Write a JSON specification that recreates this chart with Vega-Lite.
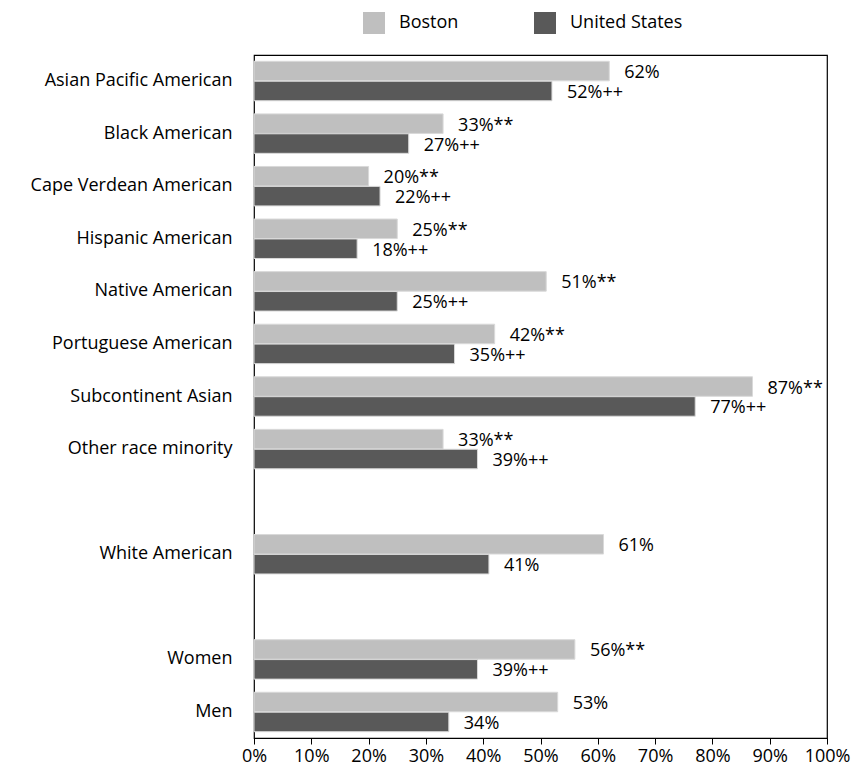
{
  "$schema": "https://vega.github.io/schema/vega-lite/v6.json",
  "autosize": {"type": "none"},
  "width": 573,
  "height": 683,
  "padding": {"left": 254, "top": 55, "right": 25, "bottom": 38},
  "background": "white",
  "config": {
    "font": "Open Sans",
    "view": {"stroke": "black", "strokeWidth": 1.2},
    "axis": {"labelFont": "Open Sans", "labelFontSize": 18, "labelColor": "black", "grid": false, "labelLimit": 300}
  },
  "data": {
    "values": [
      {"cat": "Asian Pacific American", "series": "Boston", "value": 62, "label": "62%"},
      {"cat": "Asian Pacific American", "series": "United States", "value": 52, "label": "52%++"},
      {"cat": "Black American", "series": "Boston", "value": 33, "label": "33%**"},
      {"cat": "Black American", "series": "United States", "value": 27, "label": "27%++"},
      {"cat": "Cape Verdean American", "series": "Boston", "value": 20, "label": "20%**"},
      {"cat": "Cape Verdean American", "series": "United States", "value": 22, "label": "22%++"},
      {"cat": "Hispanic American", "series": "Boston", "value": 25, "label": "25%**"},
      {"cat": "Hispanic American", "series": "United States", "value": 18, "label": "18%++"},
      {"cat": "Native American", "series": "Boston", "value": 51, "label": "51%**"},
      {"cat": "Native American", "series": "United States", "value": 25, "label": "25%++"},
      {"cat": "Portuguese American", "series": "Boston", "value": 42, "label": "42%**"},
      {"cat": "Portuguese American", "series": "United States", "value": 35, "label": "35%++"},
      {"cat": "Subcontinent Asian", "series": "Boston", "value": 87, "label": "87%**"},
      {"cat": "Subcontinent Asian", "series": "United States", "value": 77, "label": "77%++"},
      {"cat": "Other race minority", "series": "Boston", "value": 33, "label": "33%**"},
      {"cat": "Other race minority", "series": "United States", "value": 39, "label": "39%++"},
      {"cat": "White American", "series": "Boston", "value": 61, "label": "61%"},
      {"cat": "White American", "series": "United States", "value": 41, "label": "41%"},
      {"cat": "Women", "series": "Boston", "value": 56, "label": "56%**"},
      {"cat": "Women", "series": "United States", "value": 39, "label": "39%++"},
      {"cat": "Men", "series": "Boston", "value": 53, "label": "53%"},
      {"cat": "Men", "series": "United States", "value": 34, "label": "34%"}
    ]
  },
  "encoding": {
    "y": {
      "field": "cat",
      "type": "nominal",
      "scale": {
        "domain": ["Asian Pacific American", "Black American", "Cape Verdean American", "Hispanic American", "Native American", "Portuguese American", "Subcontinent Asian", "Other race minority", "gap1", "White American", "gap2", "Women", "Men"],
        "paddingInner": 0.25,
        "paddingOuter": 0.12
      },
      "axis": {
        "title": null,
        "ticks": false,
        "domain": false,
        "labelPadding": 22,
        "labelExpr": "indexof(datum.value, 'gap') === 0 ? '' : datum.value"
      }
    },
    "yOffset": {
      "field": "series",
      "type": "nominal",
      "scale": {"domain": ["Boston", "United States"], "paddingInner": 0.02}
    },
    "x": {
      "field": "value",
      "type": "quantitative",
      "scale": {"domain": [0, 100], "nice": false},
      "axis": {
        "title": null,
        "values": [0, 10, 20, 30, 40, 50, 60, 70, 80, 90, 100],
        "labelExpr": "datum.value + '%'",
        "tickSize": 6,
        "tickColor": "black",
        "domainColor": "black",
        "labelPadding": 3,
        "labelFlush": false
      }
    }
  },
  "layer": [
    {
      "mark": {"type": "bar", "stroke": "#d9d9d9", "strokeWidth": 1},
      "encoding": {
        "color": {
          "field": "series",
          "type": "nominal",
          "scale": {"domain": ["Boston", "United States"], "range": ["#bfbfbf", "#595959"]},
          "legend": {
            "title": null,
            "orient": "none",
            "legendX": 109,
            "legendY": -43,
            "direction": "horizontal",
            "symbolType": "square",
            "symbolSize": 484,
            "symbolStrokeWidth": 0,
            "labelFontSize": 18,
            "labelFont": "Open Sans",
            "labelColor": "black",
            "labelOffset": 14,
            "columnPadding": 75
          }
        }
      }
    },
    {
      "mark": {"type": "text", "align": "left", "baseline": "middle", "dx": 15, "dy": 2, "fontSize": 18, "font": "Open Sans", "color": "black"},
      "encoding": {"text": {"field": "label"}}
    }
  ]
}
